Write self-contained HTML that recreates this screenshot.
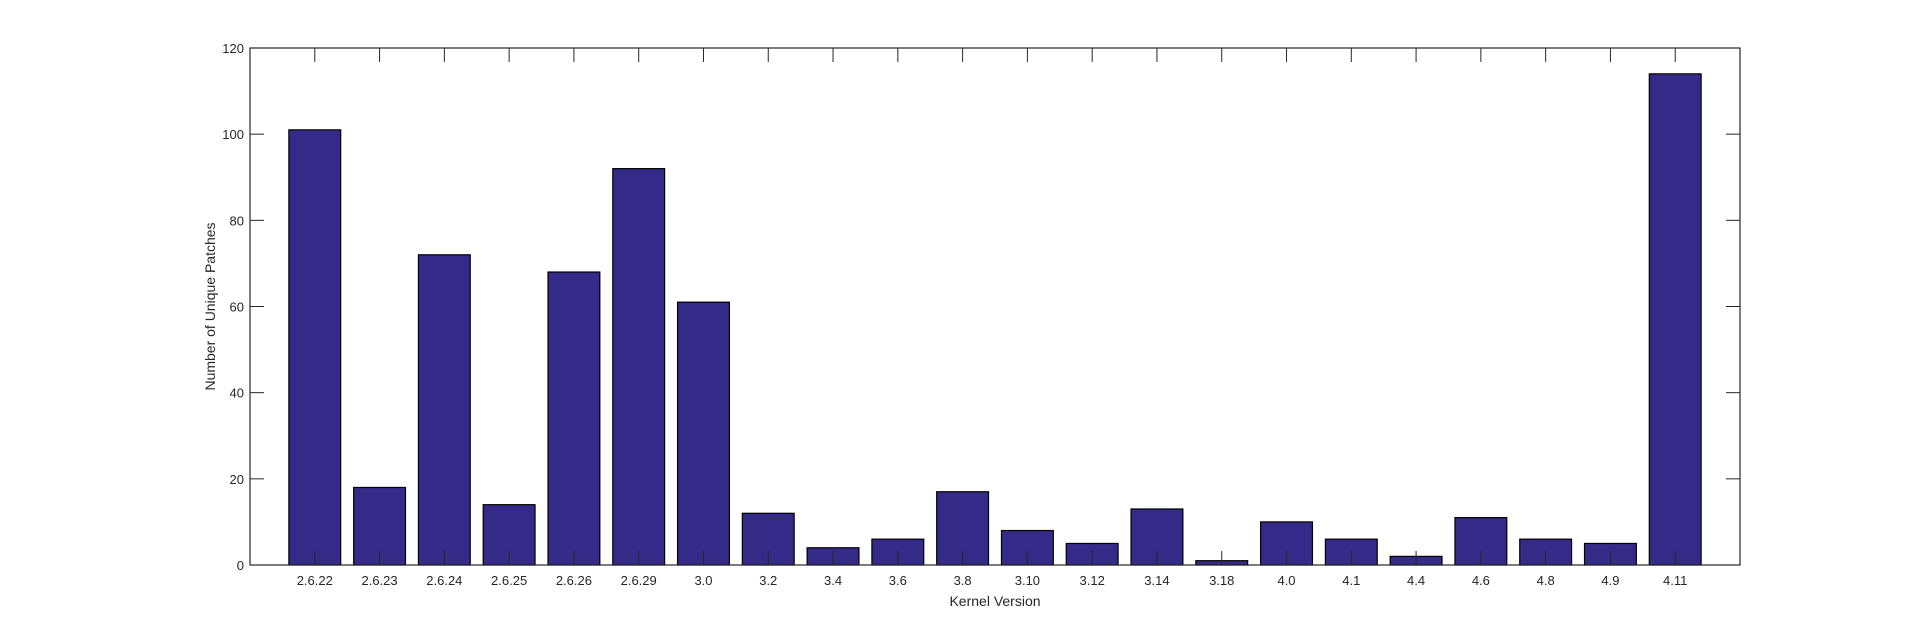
<!DOCTYPE html>
<html><head><meta charset="utf-8"><style>
html,body{margin:0;padding:0;background:#fff;}
svg{display:block;font-family:"Liberation Sans",Arial,sans-serif;}
</style></head><body>
<svg id="chart" width="1920" height="636" viewBox="0 0 1920 636"></svg>
<script>
const categories=["2.6.22","2.6.23","2.6.24","2.6.25","2.6.26","2.6.29","3.0","3.2","3.4","3.6","3.8","3.10","3.12","3.14","3.18","4.0","4.1","4.4","4.6","4.8","4.9","4.11"];
const patchCounts=[101,18,72,14,68,92,61,12,4,6,17,8,5,13,1,10,6,2,11,6,5,114];
const yTicks=[0,20,40,60,80,100,120];
const L=250,R=1740,T=48,B=565;
const svg=document.getElementById('chart');
const NS='http://www.w3.org/2000/svg';
const xs=i=>L+(i+1)*(R-L)/(categories.length+1);
const ys=v=>B-(v/120)*(B-T);
const step=(R-L)/(categories.length+1);
function mk(t,a){const e=document.createElementNS(NS,t);for(const k in a)e.setAttribute(k,a[k]);svg.appendChild(e);return e;}
categories.forEach((c,i)=>{
  const r=mk('rect',{x:xs(i)-step*0.4,y:ys(patchCounts[i]),width:step*0.8,height:B-ys(patchCounts[i]),fill:'#352a87',stroke:'#000','stroke-width':1.2});
  
  
});
const box=mk('rect',{x:L,y:T,width:R-L,height:B-T,fill:'none',stroke:'#262626','stroke-width':1.2});


categories.forEach((c,i)=>{
  const x=xs(i);
  mk('line',{x1:x,y1:B,x2:x,y2:B-14,stroke:'#262626','stroke-width':1});
  mk('line',{x1:x,y1:T,x2:x,y2:T+14,stroke:'#262626','stroke-width':1});
  const t=mk('text',{x:x,y:585,'text-anchor':'middle','font-size':13,fill:'#262626'});
  t.textContent=c;
  
  
});
yTicks.forEach(v=>{
  const y=ys(v);
  mk('line',{x1:L,y1:y,x2:L+14,y2:y,stroke:'#262626','stroke-width':1});
  mk('line',{x1:R,y1:y,x2:R-14,y2:y,stroke:'#262626','stroke-width':1});
  const t=mk('text',{x:L-6,y:y+5,'text-anchor':'end','font-size':13,fill:'#262626'});
  t.textContent=v;
  
  
});
const xl=mk('text',{x:(L+R)/2,y:606,'text-anchor':'middle','font-size':14,fill:'#262626'});
xl.textContent='Kernel Version';


const yl=mk('text',{x:0,y:0,'text-anchor':'middle','font-size':14,fill:'#262626',transform:'translate(215,'+((T+B)/2)+') rotate(-90)'});
yl.textContent='Number of Unique Patches';


</script>
</body></html>
